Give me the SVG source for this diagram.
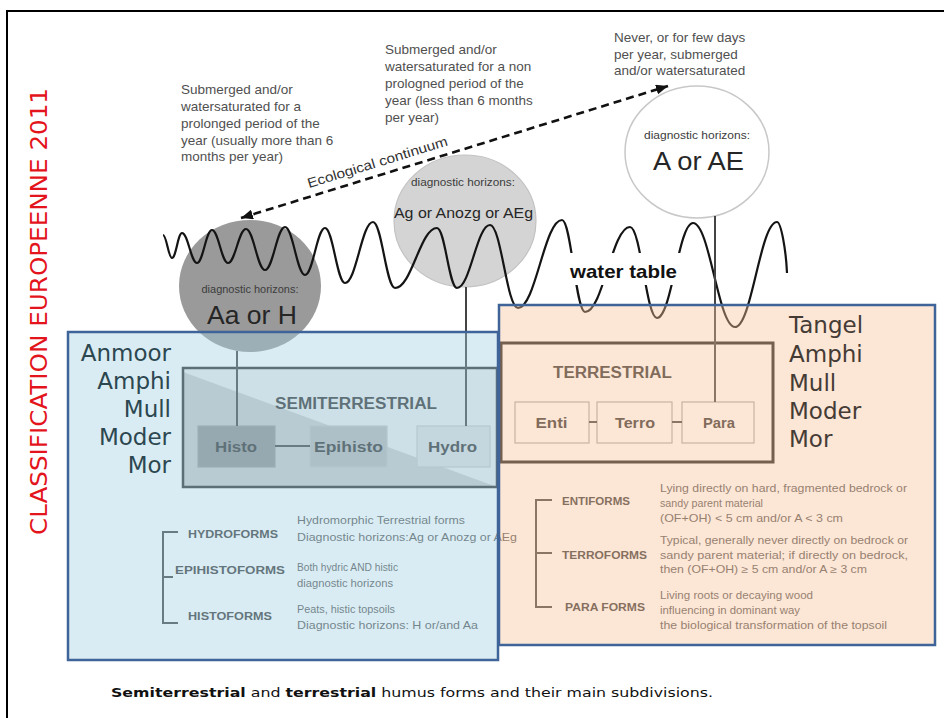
<svg xmlns="http://www.w3.org/2000/svg" width="944" height="718" viewBox="0 0 944 718">
<defs>
<style>
.sans{font-family:"Liberation Sans",Arial,Helvetica,sans-serif}
.note{font-size:13.5px;fill:#505050}
.dh{font-size:10px;fill:#3c3c3c}
.hz{fill:#262626}
.lbl{font-size:14.5px;font-weight:bold;fill:#333}
.head{font-size:16px;font-weight:bold;fill:#333}
.cap{font-size:11px;font-weight:bold;fill:#3a3a3a}
.desc{font-size:10.5px;fill:#555}
.big{font-family:"DejaVu Sans",Verdana,sans-serif;font-size:23px}
.ln{stroke:#444;stroke-width:2;fill:none}
.sub{stroke:#a8a8a8;stroke-width:1.2}
.panel{stroke:#3f6499;stroke-width:2.5}
</style>
<marker id="ah" viewBox="0 0 12 10" refX="12" refY="5" markerWidth="12" markerHeight="10" markerUnits="userSpaceOnUse" orient="auto-start-reverse"><path d="M0,0 L12,5 L0,10 z" fill="#111"/></marker>
</defs>
<rect x="0" y="0" width="944" height="718" fill="#fff"/>
<path d="M7,718 V11 H944" stroke="#000" stroke-width="2" fill="none"/>

<g id="note-prolonged" class="sans note">
<text x="181" y="94">Submerged and/or</text>
<text x="181" y="111">watersaturated for a</text>
<text x="181" y="128">prolonged period of the</text>
<text x="181" y="145">year (usually more than 6</text>
<text x="181" y="161">months per year)</text>
</g>
<g id="note-nonprolonged" class="sans note">
<text x="385" y="54">Submerged and/or</text>
<text x="385" y="71">watersaturated for a non</text>
<text x="385" y="88">prologned period of the</text>
<text x="385" y="105">year (less than 6 months</text>
<text x="385" y="122">per year)</text>
</g>
<g id="note-never" class="sans note">
<text x="614" y="42">Never, or for few days</text>
<text x="614" y="59">per year, submerged</text>
<text x="614" y="75">and/or watersaturated</text>
</g>

<g id="circle-aa-h">
<ellipse cx="250" cy="286" rx="71" ry="66" fill="#9a9a9a"/>
<text class="sans dh" x="250" y="293" text-anchor="middle" textLength="97" lengthAdjust="spacingAndGlyphs">diagnostic horizons:</text>
<text class="sans hz" x="252" y="324" text-anchor="middle" font-size="25.5" textLength="90" lengthAdjust="spacingAndGlyphs">Aa or H</text>
</g>
<g id="circle-ag">
<ellipse cx="465" cy="221" rx="71" ry="66" fill="#d4d4d4" stroke="#c2c2c2" stroke-width="1.2"/>
<text class="sans dh" x="463" y="186" text-anchor="middle" textLength="104" lengthAdjust="spacingAndGlyphs">diagnostic horizons:</text>
<text class="sans hz" x="463.5" y="217.5" text-anchor="middle" font-size="15.5" textLength="139" lengthAdjust="spacingAndGlyphs">Ag or Anozg or AEg</text>
</g>
<g id="circle-a-ae">
<ellipse cx="697" cy="152" rx="72" ry="66" fill="#fff" stroke="#c8c8c8" stroke-width="1.5"/>
<text class="sans dh" x="697" y="139" text-anchor="middle" textLength="106" lengthAdjust="spacingAndGlyphs">diagnostic horizons:</text>
<text class="sans hz" x="698.5" y="170" text-anchor="middle" font-size="25.5" textLength="91" lengthAdjust="spacingAndGlyphs">A or AE</text>
</g>

<g id="semiterrestrial">
<rect x="183" y="368" width="314" height="119" fill="#ececec"/>
<polygon points="183,372 183,487 497,487" fill="#c9c9c9"/>
<rect x="183" y="368" width="314" height="119" fill="none" stroke="#2f2f2f" stroke-width="2.5"/>
<text class="sans head" x="356" y="409" text-anchor="middle" textLength="162" lengthAdjust="spacingAndGlyphs">SEMITERRESTRIAL</text>
</g>
<g id="histo">
<rect x="198" y="426" width="77" height="41" fill="#8f8f8f" stroke="#9a9a9a" stroke-width="1.2"/>
<text class="sans lbl" x="236" y="452" text-anchor="middle" textLength="42" lengthAdjust="spacingAndGlyphs">Histo</text>
</g>
<g id="epihisto">
<rect x="310" y="426" width="77" height="41" fill="#b6b6b6" stroke="#c0c0c0" stroke-width="1.2"/>
<text class="sans lbl" x="348.5" y="452" text-anchor="middle" textLength="69" lengthAdjust="spacingAndGlyphs">Epihisto</text>
</g>
<g id="hydro">
<rect x="417" y="426" width="73" height="41" fill="#dcdcdc" stroke="#c4c4c4" stroke-width="1.2"/>
<text class="sans lbl" x="452.5" y="452" text-anchor="middle" textLength="49" lengthAdjust="spacingAndGlyphs">Hydro</text>
</g>

<g id="terrestrial">
<rect x="501" y="343" width="272" height="119" fill="none" stroke="#1e1e1e" stroke-width="3"/>
<text class="sans head" x="612.5" y="378" text-anchor="middle" textLength="119" lengthAdjust="spacingAndGlyphs">TERRESTRIAL</text>
</g>
<g id="enti">
<rect class="sub" x="515" y="402" width="74" height="41" fill="#fff"/>
<text class="sans lbl" x="551.5" y="428" text-anchor="middle" textLength="32" lengthAdjust="spacingAndGlyphs">Enti</text>
</g>
<g id="terro">
<rect class="sub" x="597" y="402" width="75" height="41" fill="#fff"/>
<text class="sans lbl" x="635" y="428" text-anchor="middle" textLength="40" lengthAdjust="spacingAndGlyphs">Terro</text>
</g>
<g id="para">
<rect class="sub" x="682" y="402" width="72" height="41" fill="#fff"/>
<text class="sans lbl" x="719" y="428" text-anchor="middle" textLength="32" lengthAdjust="spacingAndGlyphs">Para</text>
</g>

<g id="water-table">
<path d="M163,235 C166.6,235 168.4,258 172,258 C176,258 178,233 182,233 C188,233 191,263 197,263 C203,263 206,230 212,230 C218.4,230 221.6,263 228,263 C235.2,263 238.8,229 246,229 C253.6,229 257.4,270 265,270 C273,270 277,227 285,227 C293,227 297,275 305,275 C313,275 317,228 325,228 C333,228 337,283 345,283 C356.2,283 361.8,222 373,222 C381.8,222 386.2,288 395,288 C411.8,288 420.2,228 437,228 C445,228 449,288 457,288 C470.2,288 476.8,225 490,225 C501.2,225 506.8,308 518,308 C535.6,308 544.4,220 562,220 C571.2,220 575.8,312 585,312 C603,312 612,227 630,227 C640.8,227 646.2,318 657,318 C671.4,318 678.6,223 693,223 C709.8,223 718.2,327 735,327 C751.8,327 760.2,222 777,222 C781,222 786,250 787,273" fill="none" stroke="#141414" stroke-width="2.2"/>
<rect x="568" y="253" width="113" height="32" fill="#fff"/>
<text class="sans" x="623.5" y="278" text-anchor="middle" font-size="19" font-weight="bold" fill="#111" textLength="107" lengthAdjust="spacingAndGlyphs">water table</text>
</g>

<g id="connectors">
<line class="ln" x1="237" y1="351" x2="237" y2="426"/>
<line class="ln" x1="466" y1="287" x2="466" y2="426"/>
<line class="ln" x1="715" y1="216" x2="715" y2="402"/>
<line class="ln" x1="275" y1="446" x2="310" y2="446"/>
<line class="ln" x1="589" y1="422" x2="597" y2="422"/>
<line class="ln" x1="672" y1="422" x2="682" y2="422"/>
<line x1="241" y1="218" x2="668" y2="86" stroke="#111" stroke-width="2.6" stroke-dasharray="8 5" marker-start="url(#ah)" marker-end="url(#ah)"/>
<text class="sans" transform="translate(309,188) rotate(-17)" font-size="13.5" fill="#333" textLength="146" lengthAdjust="spacingAndGlyphs">Ecological continuum</text>
</g>

<g id="semi-forms" class="sans">
<path class="ln" d="M178,532 H163 V623 H178 M163,577 H173"/>
<text class="cap" x="188" y="538" textLength="90" lengthAdjust="spacingAndGlyphs">HYDROFORMS</text>
<text class="cap" x="175" y="574" textLength="110" lengthAdjust="spacingAndGlyphs">EPIHISTOFORMS</text>
<text class="cap" x="188" y="620" textLength="84" lengthAdjust="spacingAndGlyphs">HISTOFORMS</text>
<text class="desc" x="297" y="524" textLength="168" lengthAdjust="spacingAndGlyphs">Hydromorphic Terrestrial forms</text>
<text class="desc" x="297" y="541" textLength="220" lengthAdjust="spacingAndGlyphs">Diagnostic horizons:Ag or Anozg or AEg</text>
<text class="desc" x="297" y="571" textLength="101" lengthAdjust="spacingAndGlyphs">Both hydric AND histic</text>
<text class="desc" x="297" y="587" textLength="96" lengthAdjust="spacingAndGlyphs">diagnostic horizons</text>
<text class="desc" x="297" y="613" textLength="98" lengthAdjust="spacingAndGlyphs">Peats, histic topsoils</text>
<text class="desc" x="297" y="629" textLength="181" lengthAdjust="spacingAndGlyphs">Diagnostic horizons: H or/and Aa</text>
</g>

<g id="terr-forms" class="sans">
<path class="ln" d="M552,500 H536 V607 H552 M536,553 H552"/>
<text class="cap" x="562" y="505" textLength="68" lengthAdjust="spacingAndGlyphs">ENTIFORMS</text>
<text class="cap" x="562" y="559" textLength="85" lengthAdjust="spacingAndGlyphs">TERROFORMS</text>
<text class="cap" x="565" y="611" textLength="80" lengthAdjust="spacingAndGlyphs">PARA FORMS</text>
<text class="desc" x="660" y="492" textLength="247" lengthAdjust="spacingAndGlyphs">Lying directly on hard, fragmented bedrock or</text>
<text class="desc" x="660" y="507" textLength="103" lengthAdjust="spacingAndGlyphs">sandy parent material</text>
<text class="desc" x="660" y="522" textLength="183" lengthAdjust="spacingAndGlyphs">(OF+OH) &lt; 5 cm and/or A &lt; 3 cm</text>
<text class="desc" x="660" y="544" textLength="248" lengthAdjust="spacingAndGlyphs">Typical, generally never directly on bedrock or</text>
<text class="desc" x="660" y="559" textLength="248" lengthAdjust="spacingAndGlyphs">sandy parent material; if directly on bedrock,</text>
<text class="desc" x="660" y="573" textLength="207" lengthAdjust="spacingAndGlyphs">then (OF+OH) ≥ 5 cm and/or A ≥ 3 cm</text>
<text class="desc" x="660" y="599" textLength="153" lengthAdjust="spacingAndGlyphs">Living roots or decaying wood</text>
<text class="desc" x="660" y="614" textLength="140" lengthAdjust="spacingAndGlyphs">influencing in dominant way</text>
<text class="desc" x="660" y="629" textLength="227" lengthAdjust="spacingAndGlyphs">the biological transformation of the topsoil</text>
</g>

<g id="panel-semiterrestrial">
<rect class="panel" x="68" y="332" width="430" height="328" fill="rgb(162,207,225)" fill-opacity="0.4"/>
<g class="big" fill="#2c4750" text-anchor="end">
<text x="171" y="361">Anmoor</text>
<text x="171" y="389">Amphi</text>
<text x="171" y="417">Mull</text>
<text x="171" y="445">Moder</text>
<text x="171" y="473">Mor</text>
</g>
</g>
<g id="panel-terrestrial">
<rect class="panel" x="499" y="305" width="436" height="340" fill="rgb(247,192,152)" fill-opacity="0.4"/>
<g class="big" fill="#453b35">
<text x="789" y="333">Tangel</text>
<text x="789" y="362">Amphi</text>
<text x="789" y="391">Mull</text>
<text x="789" y="419">Moder</text>
<text x="789" y="447">Mor</text>
</g>
</g>

<text transform="translate(47,311.5) rotate(-90)" text-anchor="middle" font-family="'DejaVu Sans',Verdana,sans-serif" font-size="23" fill="#e3141b" textLength="447" lengthAdjust="spacingAndGlyphs">CLASSIFICATION EUROPEENNE 2011</text>

<text x="111" y="697" font-family="'DejaVu Sans',Verdana,sans-serif" font-size="13" fill="#111" textLength="602" lengthAdjust="spacingAndGlyphs"><tspan font-weight="bold">Semiterrestrial</tspan> and <tspan font-weight="bold">terrestrial</tspan> humus forms and their main subdivisions.</text>
</svg>
